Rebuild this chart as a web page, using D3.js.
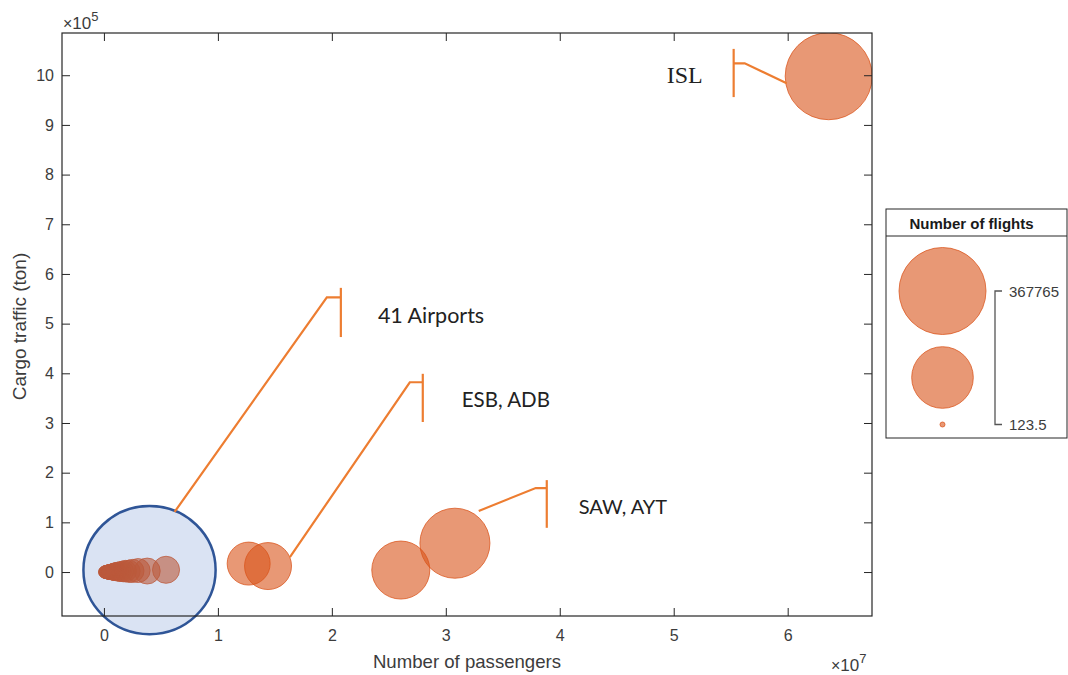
<!DOCTYPE html>
<html lang="en">
<head>
  <meta charset="UTF-8">
  <title>Passengers vs cargo bubble chart</title>
  <script src="https://d3js.org/d3.v7.min.js"></script>
  <style>
    body { margin: 0; background: #fff; }
    svg text { font-family: "Liberation Sans", Arial, sans-serif; }
  </style>
</head>
<body>
  <div id="chart"></div>

  <script>
  // big airports: passengers, cargo (ton), number of flights
  const bigNames      = ['ISL', 'SAW', 'AYT', 'ESB', 'ADB'];
  const bigPassengers = [63.6e6, 30.8e6, 26.05e6, 12.7e6, 14.4e6];
  const bigCargo      = [998000, 58000, 4000, 17000, 12000];
  const bigFlights    = [367765, 238000, 163000, 89000, 106500];

  // the other 41 airports (cluster near the origin)
  const smallPassengers = [5.45e6, 3.8e6, 3.0e6, 2.5e6, 2.2e6, 1.9e6, 1.7e6, 1.5e6, 1.35e6, 1.2e6,
                           1.1e6, 1.0e6, 0.95e6, 0.9e6, 0.85e6, 0.8e6, 0.75e6, 0.7e6, 0.65e6, 0.6e6,
                           0.55e6, 0.5e6, 0.48e6, 0.45e6, 0.42e6, 0.4e6, 0.38e6, 0.35e6, 0.32e6, 0.3e6,
                           0.28e6, 0.25e6, 0.22e6, 0.2e6, 0.18e6, 0.15e6, 0.12e6, 0.1e6, 0.08e6, 0.05e6, 0.02e6];
  const smallCargo = [4500, 2000, 3000, 2200, 1500, 1800, 1200, 1000, 900, 700,
                      1100, 600, 500, 400, 700, 300, 250, 200, 350, 150,
                      120, 100, 90, 80, 60, 50, 45, 40, 35, 30,
                      25, 20, 15, 12, 10, 8, 6, 4, 3, 2, 0];
  const smallFlights = [34600, 31800, 27000, 25000, 23000, 21500, 20000, 18500, 17000, 16000,
                        15000, 14200, 13500, 13000, 12500, 12000, 11500, 11000, 10500, 10000,
                        9800, 9500, 9200, 9000, 8800, 8600, 8400, 8200, 8000, 7800,
                        7600, 7400, 7200, 7000, 6800, 6600, 6400, 6200, 6000, 5800, 123.5];

  const xTicks = [0, 1, 2, 3, 4, 5, 6];          // x 10^7
  const yTicks = [0, 1, 2, 3, 4, 5, 6, 7, 8, 9, 10]; // x 10^5
  const legendValues = [367765, (367765 + 123.5) / 2, 123.5];

  // callouts, in data units (passengers, cargo)
  const callouts = [
    { label: '41 Airports', font: 'Lato', size: 21.5,
      from: [0.62e7, 1.21e5], elbow: [1.956e7, 5.53e5], bar: 2.079e7, barY: [5.72e5, 4.73e5], text: [2.404e7, 5.01e5] },
    { label: 'ESB, ADB', font: 'Lato', size: 20.5,
      from: [1.632e7, 0.30e5], elbow: [2.684e7, 3.82e5], bar: 2.798e7, barY: [3.99e5, 3.02e5], text: [3.14e7, 3.32e5] },
    { label: 'SAW, AYT', font: 'Lato', size: 20,
      from: [3.289e7, 1.23e5], elbow: [3.789e7, 1.69e5], bar: 3.886e7, barY: [1.85e5, 0.89e5], text: [4.167e7, 1.17e5] },
    { label: 'ISL', font: 'Liberation Serif', size: 24,
      from: [5.991e7, 9.84e5], elbow: [5.623e7, 10.24e5], bar: 5.526e7, barY: [10.53e5, 9.56e5], text: [4.939e7, 9.84e5] }
  ];

  const W = 1068, H = 675;
  const plot = { left: 62, top: 33, right: 872, bottom: 616 };
  const textColor = '#3c3c3c';
  const bubbleColor = '#D95319';
  const calloutColor = '#ED7D31';

  const x = d3.scaleLinear().domain([-0.368e7, 6.74e7]).range([plot.left, plot.right]);
  const y = d3.scaleLinear().domain([-0.885e5, 10.85e5]).range([plot.bottom, plot.top]);
  const area = d3.scaleLinear().domain([123.5, 367765]).range([2.5 * 2.5, 43.5 * 43.5]);
  const r = v => Math.sqrt(area(v));

  const svg = d3.select('#chart').append('svg')
    .attr('width', W).attr('height', H);

  svg.append('clipPath').attr('id', 'plotclip')
    .append('rect')
    .attr('x', plot.left).attr('y', plot.top)
    .attr('width', plot.right - plot.left).attr('height', plot.bottom - plot.top);

  // bubbles
  const points = [];
  smallPassengers.forEach((p, i) => points.push({ x: p, y: smallCargo[i], f: smallFlights[i] }));
  bigPassengers.forEach((p, i) => points.push({ x: p, y: bigCargo[i], f: bigFlights[i], name: bigNames[i] }));

  const gBubbles = svg.append('g').attr('clip-path', 'url(#plotclip)');
  gBubbles.selectAll('circle')
    .data(points)
    .enter().append('circle')
    .attr('cx', d => x(d.x))
    .attr('cy', d => y(d.y))
    .attr('r', d => r(d.f))
    .attr('fill', bubbleColor).attr('fill-opacity', 0.6)
    .attr('stroke', bubbleColor).attr('stroke-opacity', 0.75)
    .attr('stroke-width', 1);

  // highlight ellipse around the cluster
  svg.append('ellipse')
    .attr('cx', x(0.4e7)).attr('cy', y(0.04e5))
    .attr('rx', x(0.58e7) - x(0))
    .attr('ry', y(0) - y(1.29e5))
    .attr('fill', '#4472C4').attr('fill-opacity', 0.2)
    .attr('stroke', '#2F5597').attr('stroke-width', 2.5);

  // axes
  svg.append('g')
    .attr('transform', `translate(0,${plot.bottom})`)
    .call(d3.axisBottom(x).tickValues(xTicks.map(t => t * 1e7)).tickFormat((d, i) => xTicks[i])
      .tickSizeInner(-8).tickSizeOuter(0).tickPadding(14));
  svg.append('g')
    .attr('transform', `translate(${plot.left},0)`)
    .call(d3.axisLeft(y).tickValues(yTicks.map(t => t * 1e5)).tickFormat((d, i) => yTicks[i])
      .tickSizeInner(-8).tickSizeOuter(0).tickPadding(8));
  svg.append('g')
    .attr('transform', `translate(0,${plot.top})`)
    .call(d3.axisTop(x).tickValues(xTicks.map(t => t * 1e7)).tickFormat('')
      .tickSizeInner(-8).tickSizeOuter(0));
  svg.append('g')
    .attr('transform', `translate(${plot.right},0)`)
    .call(d3.axisRight(y).tickValues(yTicks.map(t => t * 1e5)).tickFormat('')
      .tickSizeInner(-8).tickSizeOuter(0));

  svg.selectAll('.domain').remove();
  svg.selectAll('.tick line').attr('stroke', '#262626');
  svg.selectAll('.tick text')
    .attr('fill', textColor).style('font-size', '16px');

  svg.append('rect')
    .attr('x', plot.left).attr('y', plot.top)
    .attr('width', plot.right - plot.left).attr('height', plot.bottom - plot.top)
    .attr('fill', 'none').attr('stroke', '#262626').attr('stroke-width', 1.2);

  // axis titles and exponents
  svg.append('text')
    .attr('x', (plot.left + plot.right) / 2).attr('y', 668)
    .attr('text-anchor', 'middle')
    .attr('fill', textColor).style('font-size', '18.6px')
    .text('Number of passengers');
  svg.append('text')
    .attr('transform', `translate(26,${(plot.top + plot.bottom) / 2 + 2}) rotate(-90)`)
    .attr('text-anchor', 'middle')
    .attr('fill', textColor).style('font-size', '19px')
    .text('Cargo traffic (ton)');

  function exponent(px, py, e) {
    const t = svg.append('text').attr('x', px).attr('y', py)
      .attr('fill', textColor).style('font-size', '17px');
    t.append('tspan').text('\u00d7').style('font-size', '16px');
    t.append('tspan').text('10');
    t.append('tspan').text(e).attr('dy', -8).style('font-size', '13px');
  }
  exponent(63, 29, '5');
  exponent(831, 671, '7');

  // callouts
  const gCall = svg.append('g');
  callouts.forEach(c => {
    gCall.append('polyline')
      .attr('points', [[x(c.from[0]), y(c.from[1])], [x(c.elbow[0]), y(c.elbow[1])], [x(c.bar), y(c.elbow[1])]]
        .map(p => p.join(',')).join(' '))
      .attr('fill', 'none').attr('stroke', calloutColor).attr('stroke-width', 2.2);
    gCall.append('line')
      .attr('x1', x(c.bar)).attr('x2', x(c.bar))
      .attr('y1', y(c.barY[0])).attr('y2', y(c.barY[1]))
      .attr('stroke', calloutColor).attr('stroke-width', 2.2);
    gCall.append('text')
      .attr('x', x(c.text[0])).attr('y', y(c.text[1]))
      .attr('fill', '#222')
      .style('font-family', c.font).style('font-size', c.size + 'px')
      .text(c.label);
  });

  // bubble size legend
  const lg = { x: 886, y: 209, w: 181, h: 229, head: 27, cx: 942.5 };
  const legend = svg.append('g');
  legend.append('rect')
    .attr('x', lg.x).attr('y', lg.y).attr('width', lg.w).attr('height', lg.h)
    .attr('fill', '#fff').attr('stroke', '#262626').attr('stroke-width', 1);
  legend.append('line')
    .attr('x1', lg.x).attr('x2', lg.x + lg.w)
    .attr('y1', lg.y + lg.head).attr('y2', lg.y + lg.head)
    .attr('stroke', '#262626').attr('stroke-width', 1);
  legend.append('text')
    .attr('x', lg.x + lg.w / 2 - 5).attr('y', lg.y + 20)
    .attr('text-anchor', 'middle')
    .attr('fill', '#1a1a1a').style('font-size', '15px').style('font-weight', 'bold')
    .text('Number of flights');

  const legendCy = [291, 377.5, 424.5];
  legend.selectAll('circle')
    .data(legendValues)
    .enter().append('circle')
    .attr('cx', lg.cx)
    .attr('cy', (d, i) => legendCy[i])
    .attr('r', d => r(d))
    .attr('fill', bubbleColor).attr('fill-opacity', 0.6)
    .attr('stroke', bubbleColor).attr('stroke-opacity', 0.75);

  legend.append('path')
    .attr('d', `M1002,${legendCy[0]} H995 V${legendCy[2]} H1002`)
    .attr('fill', 'none').attr('stroke', '#555').attr('stroke-width', 1.3);
  legend.selectAll('text.lv')
    .data([legendValues[0], legendValues[2]])
    .enter().append('text')
    .attr('class', 'lv')
    .attr('x', 1009)
    .attr('y', (d, i) => (i === 0 ? legendCy[0] : legendCy[2]) + 5.5)
    .attr('fill', textColor).style('font-size', '15px')
    .text(d => d);
  </script>
</body>
</html>
